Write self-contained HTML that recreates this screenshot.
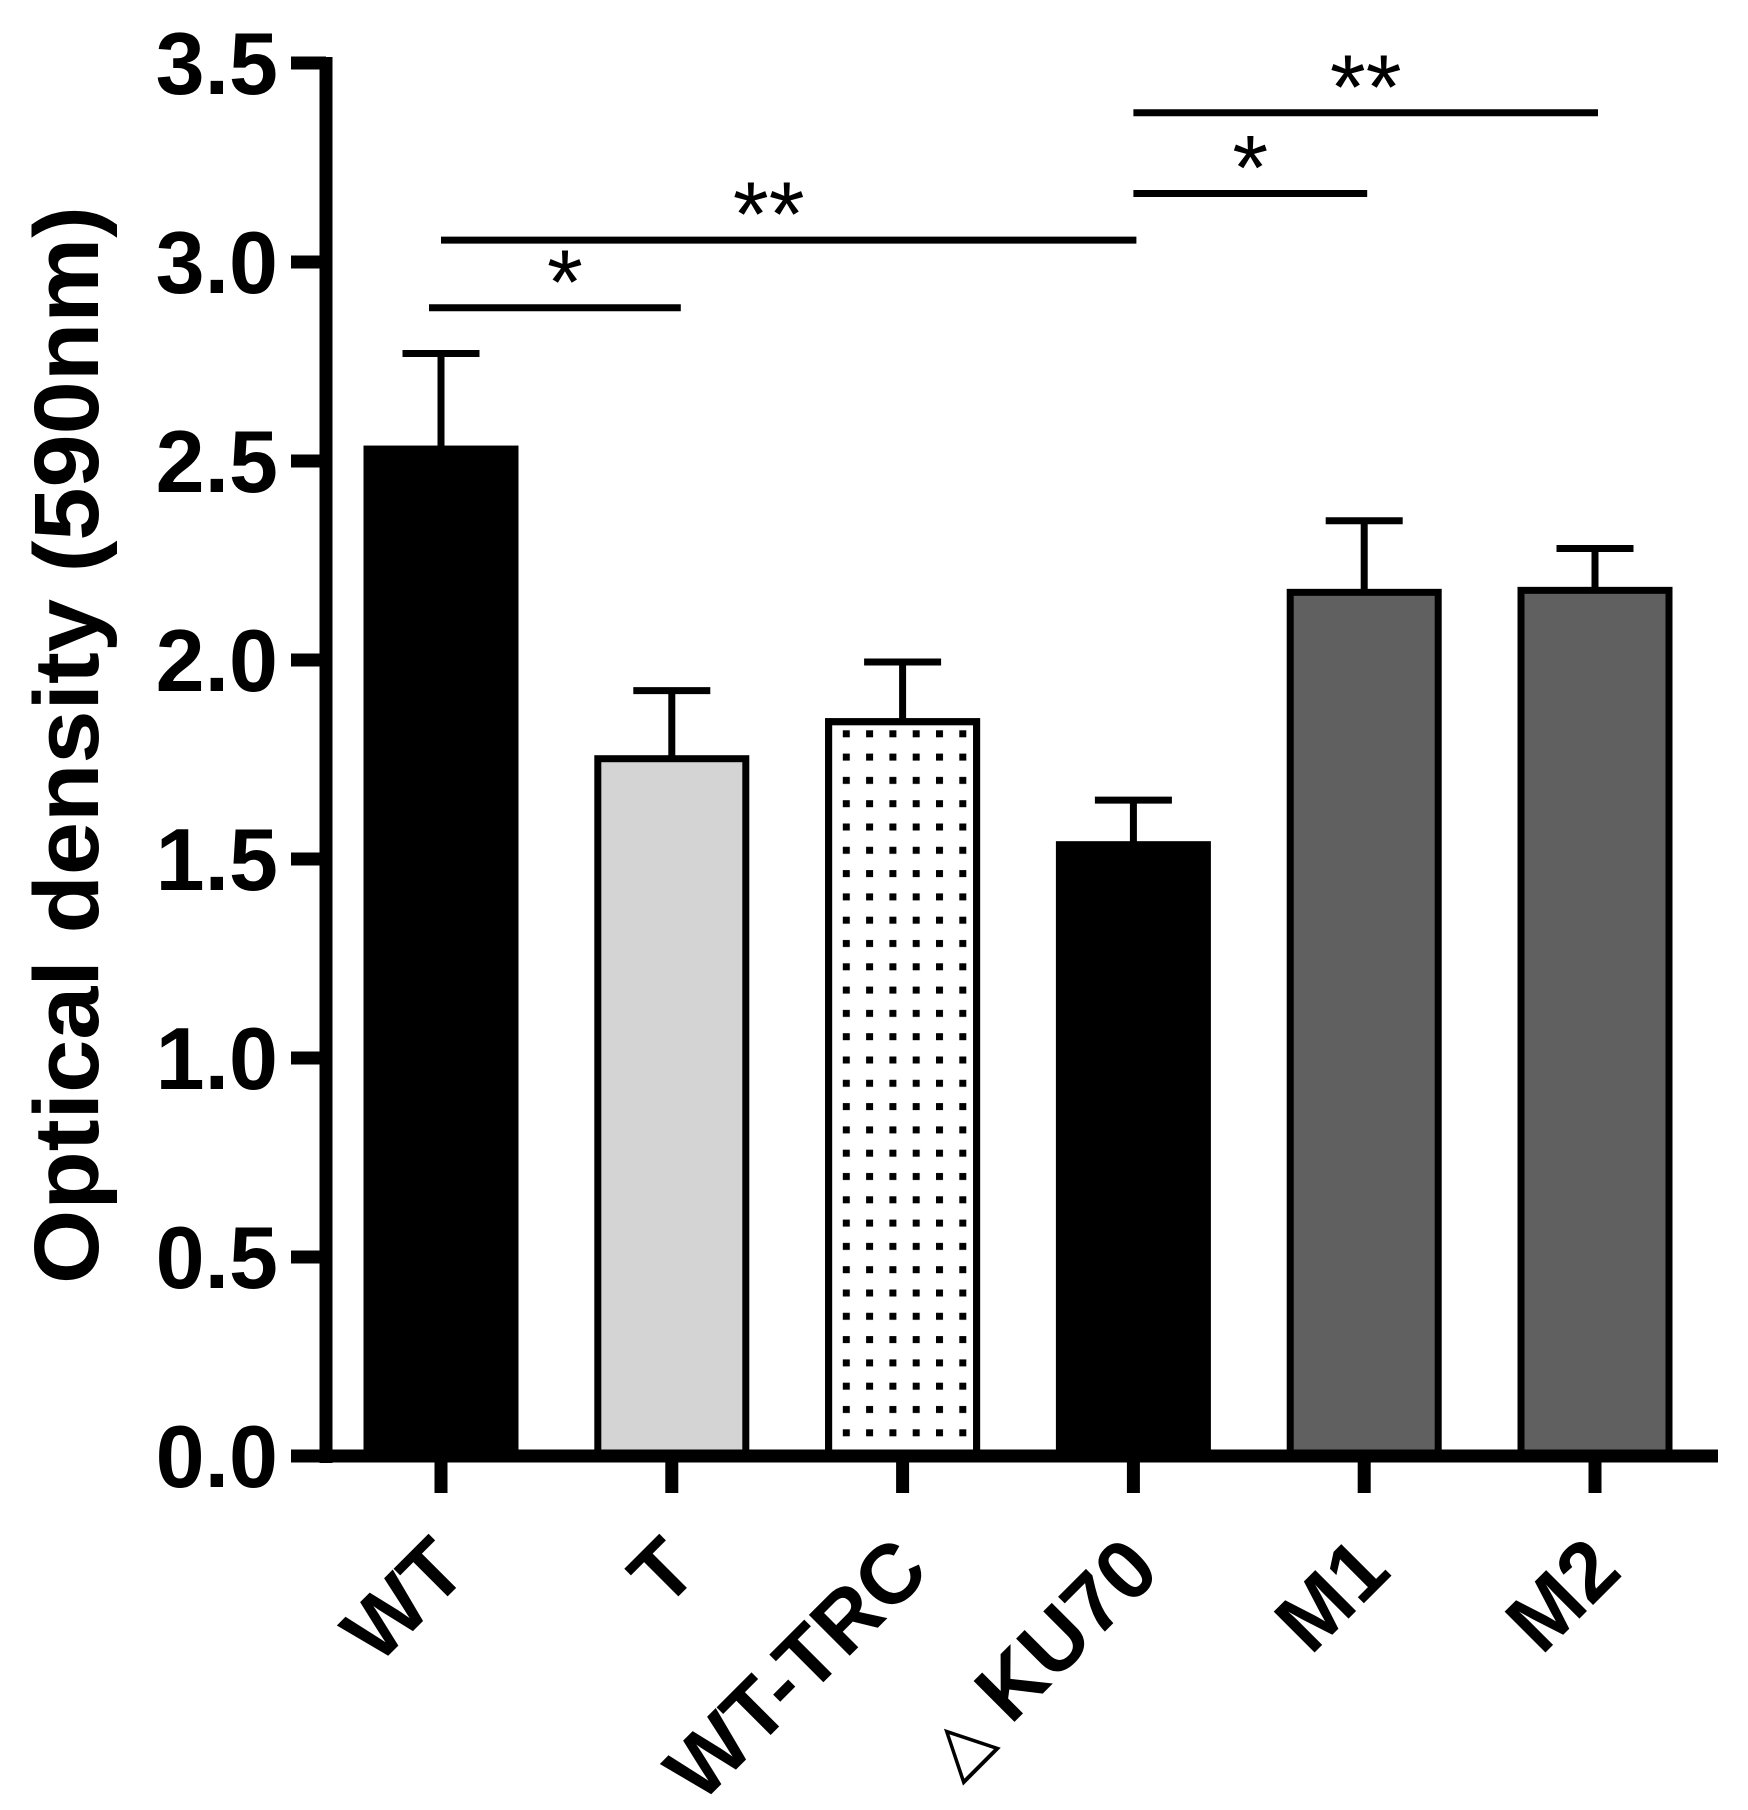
<!DOCTYPE html>
<html><head><meta charset="utf-8"><style>
html,body{margin:0;padding:0;background:#fff;}
svg{display:block;font-family:"Liberation Sans",Arial,sans-serif;font-weight:bold;}
</style></head><body>
<svg id="chart" width="1748" height="1810" viewBox="0 0 1748 1810" xmlns="http://www.w3.org/2000/svg">
<defs>
<pattern id="dots" patternUnits="userSpaceOnUse" width="23.3" height="23.3" x="4" y="0">
<rect x="0" y="8" width="7" height="7" fill="#000"/>
</pattern>
</defs>
<g id="plot"></g>
<text transform="translate(98,745) rotate(-90)" text-anchor="middle" font-size="92" textLength="1078" lengthAdjust="spacingAndGlyphs">Optical density (590nm)</text>
</svg>
<script>
const categories = ["WT","T","WT-TRC","KU70","M1","M2"];
const means = [2.53, 1.752, 1.845, 1.536, 2.17, 2.175];
const errs = [0.24, 0.171, 0.15, 0.112, 0.18, 0.105];
const fills = ["#000","#d4d4d4","url(#dots)","#000","#606060","#606060"];
const yTicks = [0,0.5,1.0,1.5,2.0,2.5,3.0,3.5];
const yTickLabels = ["0.0","0.5","1.0","1.5","2.0","2.5","3.0","3.5"];
const sigFrom = [0,0,3,3];
const sigTo = [1,3,4,5];
const sigLevel = [2.885, 3.055, 3.172, 3.375];
const sigLabel = ["*","**","*","**"];

const NS="http://www.w3.org/2000/svg";
const g=document.getElementById('plot');
const y0=1456, pxPer=398;
function yS(v){return y0 - v*pxPer;}
function xS(i){return 441 + i*230.8;}
function mk(tag,attrs){const e=document.createElementNS(NS,tag);for(const k in attrs)e.setAttribute(k,attrs[k]);g.appendChild(e);return e;}

const bw=148;
means.forEach((m,i)=>{
  const cx=xS(i);
  const top=yS(m);
  const el=mk('line',{x1:cx,x2:cx,y1:top,y2:yS(m+errs[i]),stroke:'#000','stroke-width':7});
  
  
  const cap=mk('line',{x1:cx-38.5,x2:cx+38.5,y1:yS(m+errs[i]),y2:yS(m+errs[i]),stroke:'#000','stroke-width':7});
  
  
  const r=mk('rect',{x:cx-bw/2,y:top,width:bw,height:y0-top,fill:fills[i],stroke:'#000','stroke-width':7});
  
  
  if(fills[i].startsWith('url')){
    const bg=mk('rect',{x:cx-bw/2,y:top,width:bw,height:y0-top,fill:'none',stroke:'#000','stroke-width':7});
    
    
  }
  const t=mk('line',{x1:cx,x2:cx,y1:y0,y2:1493,stroke:'#000','stroke-width':13});
  
  
  const lb=mk('text',{transform:`translate(${cx+29},1574) rotate(-45)`,'text-anchor':'end','font-size':84});
  if(i===3){
    const d=document.createElementNS(NS,'tspan');
    d.setAttribute('font-family','"DejaVu Sans", sans-serif');
    d.setAttribute('font-weight','normal');
    d.setAttribute('font-size','70');
    d.textContent='\u25B3 ';
    lb.appendChild(d);
    const k=document.createElementNS(NS,'tspan');
    k.textContent=categories[i];
    lb.appendChild(k);
  } else {
    lb.textContent=categories[i];
  }
  
  
});
const ya=mk('line',{x1:326,x2:326,y1:57,y2:1463,stroke:'#000','stroke-width':13});


const xa=mk('line',{x1:291,x2:1718,y1:y0,y2:y0,stroke:'#000','stroke-width':13});


yTicks.forEach((v,i)=>{
  const t=mk('line',{x1:291,x2:326,y1:yS(v),y2:yS(v),stroke:'#000','stroke-width':13});
  
  
  const tx=mk('text',{x:278,y:yS(v)+31,'text-anchor':'end','font-size':88});
  tx.textContent=yTickLabels[i];
  
  
});
sigFrom.forEach((a,i)=>{
  const b=sigTo[i];
  const x1=xS(a)-(i===0?12:0), x2=xS(b)+(i===0?9:3);
  const yy=yS(sigLevel[i]);
  const l=mk('line',{x1:x1,x2:x2,y1:yy,y2:yy,stroke:'#000','stroke-width':7});
  
  
  const s=mk('text',{x:(x1+x2)/2-(i===1?20:(i===0?-10:0)),y:yy-50+56,'text-anchor':'middle','font-size':92,'font-weight':'normal'});
  s.textContent=sigLabel[i];
  
  
});
</script>
</body></html>
